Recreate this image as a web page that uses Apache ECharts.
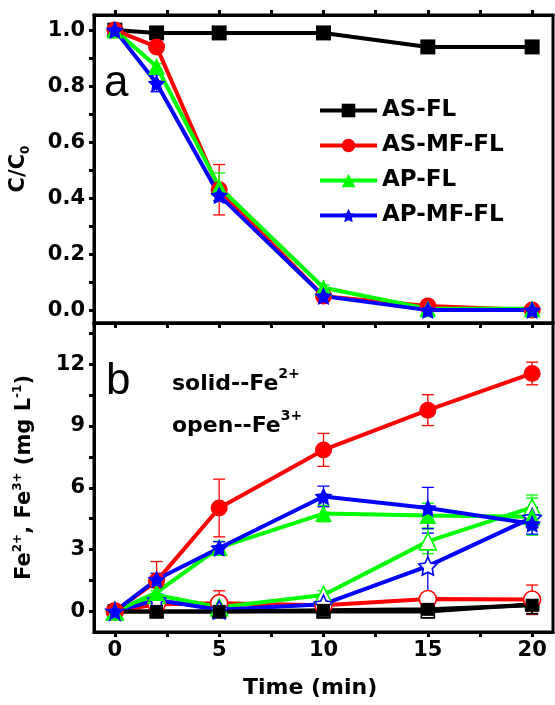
<!DOCTYPE html>
<html>
<head>
    <meta charset="utf-8">
    <title>ECharts</title>
    <script src="https://cdn.jsdelivr.net/npm/echarts@6/dist/echarts.min.js"></script>
</head>
<body style="margin:0">
    <div id="main" style="width: 555px;height:705px;"></div>
    <script>
        // sampling times (min)
        var times = [0, 2, 5, 10, 15, 20];

        // panel a: C/C0
        var names = ['AS-FL', 'AS-MF-FL', 'AP-FL', 'AP-MF-FL'];
        var cAS = [1.0, 0.99, 0.99, 0.99, 0.94, 0.94];
        var cASMF = [1.0, 0.94, 0.43, 0.05, 0.015, 0.0];
        var cAP = [1.0, 0.87, 0.44, 0.08, 0.005, 0.005];
        var cAPMF = [1.0, 0.81, 0.41, 0.05, 0.0, 0.0];
        var eASMF = [0, 0.01, 0.09, 0.01, 0.02, 0.005];
        var eAP = [0, 0.01, 0.05, 0.01, 0.01, 0.005];
        var eAPMF = [0, 0.03, 0.02, 0.01, 0.005, 0.005];

        // panel b: Fe2+ (solid) and Fe3+ (open), mg/L
        var fe2AS = [0, 0, 0, 0.05, 0.1, 0.3];
        var fe3AS = [0, 0, 0, 0, 0, 0.35];
        var fe2ASMF = [0, 1.47, 5.02, 7.84, 9.77, 11.55];
        var fe3ASMF = [0, 0.35, 0.4, 0.3, 0.6, 0.58];
        var fe2AP = [0, 0.92, 3.1, 4.75, 4.65, 4.6];
        var fe3AP = [0, 0.8, 0.2, 0.8, 3.4, 5.05];
        var fe2APMF = [0, 1.55, 3.08, 5.58, 5.02, 4.25];
        var fe3APMF = [0, 0.55, 0.08, 0.35, 2.2, 4.55];
        var efe2AS = [0, 0, 0, 0, 0.2, 0.4];
        var efe3AS = [0, 0.3, 0, 0.3, 0.3, 0.5];
        var efe2ASMF = [0, 0.95, 1.4, 0.8, 0.75, 0.55];
        var efe3ASMF = [0, 0.3, 0.6, 0.2, 0.3, 0.7];
        var efe2AP = [0, 0.3, 0.3, 0.4, 0.6, 0.9];
        var efe3AP = [0, 0.2, 0.2, 0.2, 0.6, 0.6];
        var efe2APMF = [0, 0.3, 0.3, 0.5, 1.0, 0.5];
        var efe3APMF = [0, 0.3, 0.2, 0.2, 1.6, 0.5];

        var FONT = 'DejaVu Sans';
        var STAR = 'path://M0,-10L2.94,-4.05L9.51,-3.09L4.76,1.55L5.88,8.09L0,5.2L-5.88,8.09L-4.76,1.55L-9.51,-3.09L-2.94,-4.05Z';

        function pairs(v) {
            return times.map(function (t, i) { return [t, v[i]]; });
        }
        function triples(v, e) {
            return times.map(function (t, i) { return [t, v[i], e[i]]; });
        }

        function lineSeries(name, vals, color, symbol, size, open, gi) {
            return {
                name: name,
                type: 'line',
                xAxisIndex: gi, yAxisIndex: gi,
                data: pairs(vals),
                symbol: symbol,
                symbolSize: size,
                showAllSymbol: true,
                animation: false,
                lineStyle: { color: color, width: 4 },
                itemStyle: open
                    ? { color: '#fff', borderColor: color, borderWidth: 1.6 }
                    : { color: color, borderColor: color, borderWidth: 0 }
            };
        }

        function errSeries(vals, errs, color, gi) {
            return {
                type: 'custom',
                xAxisIndex: gi, yAxisIndex: gi,
                data: triples(vals, errs),
                animation: false,
                silent: true,
                renderItem: function (params, api) {
                    var e = api.value(2);
                    if (!e) return;
                    var x = api.value(0), y = api.value(1);
                    var hi = api.coord([x, y + e]);
                    var lo = api.coord([x, y - e]);
                    var w = 6;
                    var st = { stroke: color, lineWidth: 1.3 };
                    return {
                        type: 'group',
                        children: [
                            { type: 'line', shape: { x1: hi[0], y1: hi[1], x2: lo[0], y2: lo[1] }, style: st },
                            { type: 'line', shape: { x1: hi[0] - w, y1: hi[1], x2: hi[0] + w, y2: hi[1] }, style: st },
                            { type: 'line', shape: { x1: lo[0] - w, y1: lo[1], x2: lo[0] + w, y2: lo[1] }, style: st }
                        ]
                    };
                }
            };
        }

        function range(a, b, s) {
            var out = [];
            for (var v = a; v <= b + 1e-9; v += s) out.push(Math.round(v * 100) / 100);
            return out;
        }

        var labelStyle = { color: '#000', fontFamily: FONT, fontWeight: 'bold', fontSize: 21 };

        function xAxisCfg(gi, showLabels, pos) {
            return {
                type: 'value', gridIndex: gi, min: -1, max: 21, position: pos || 'bottom',
                splitLine: { show: false },
                axisLine: { onZero: false, lineStyle: { color: '#000', width: 3 } },
                axisTick: { inside: false, length: 5, lineStyle: { width: 3, color: '#000' },
                    customValues: range(0, 20, 2.5) },
                axisLabel: showLabels
                    ? Object.assign({ margin: 8, customValues: [0, 5, 10, 15, 20] }, labelStyle)
                    : { show: false }
            };
        }

        var richAxis = {
            m: { fontFamily: FONT, fontWeight: 'bold', fontSize: 21, color: '#000', lineHeight: 26, verticalAlign: 'middle' },
            s: { fontFamily: FONT, fontWeight: 'bold', fontSize: 12, color: '#000', lineHeight: 26, verticalAlign: 'bottom' },
            p: { fontFamily: FONT, fontWeight: 'bold', fontSize: 12, color: '#000', lineHeight: 26, verticalAlign: 'top' }
        };
        var richNote = {
            m: { fontFamily: FONT, fontWeight: 'bold', fontSize: 22, fill: '#000', lineHeight: 28, verticalAlign: 'bottom' },
            p: { fontFamily: FONT, fontWeight: 'bold', fontSize: 14, fill: '#000', lineHeight: 28, verticalAlign: 'top' }
        };

        var chartDom = document.getElementById('main');
        var myChart = echarts.init(chartDom);

        var option = {
            backgroundColor: '#fff',
            animation: false,
            grid: [
                { left: 94, right: 2, top: 15, height: 308, show: true, borderColor: '#000', borderWidth: 3 },
                { left: 94, right: 2, top: 323, height: 309, show: true, borderColor: '#000', borderWidth: 3 }
            ],
            xAxis: [
                xAxisCfg(0, false),
                xAxisCfg(1, true),
                xAxisCfg(0, false, 'top')
            ],
            yAxis: [
                {
                    type: 'value', gridIndex: 0, min: -0.046, max: 1.054,
                    splitLine: { show: false },
                    axisLine: { onZero: false, lineStyle: { color: '#000', width: 3 } },
                    axisTick: { length: 5, lineStyle: { width: 3, color: '#000' }, customValues: range(0, 1, 0.1) },
                    axisLabel: Object.assign({
                        margin: 9, customValues: range(0, 1, 0.2),
                        formatter: function (v) { return v.toFixed(1); }
                    }, labelStyle),
                    name: '{m|C/C}{s|0}',
                    nameLocation: 'middle',
                    nameGap: 62,
                    nameTextStyle: { rich: richAxis }
                },
                {
                    type: 'value', gridIndex: 1, min: -1, max: 14,
                    splitLine: { show: false },
                    axisLine: { onZero: false, lineStyle: { color: '#000', width: 3 } },
                    axisTick: { length: 5, lineStyle: { width: 3, color: '#000' }, customValues: range(0, 13.5, 1.5) },
                    axisLabel: Object.assign({ margin: 9, customValues: [0, 3, 6, 9, 12] }, labelStyle),
                    name: '{m|Fe}{p|2+}{m|, Fe}{p|3+}{m| (mg L}{p|-1}{m|)}',
                    nameLocation: 'middle',
                    nameGap: 56,
                    nameTextStyle: { rich: richAxis }
                }
            ],
            legend: {
                data: names,
                orient: 'vertical',
                left: 313,
                top: 94,
                itemWidth: 57,
                itemHeight: 17,
                itemGap: 12,
                lineStyle: { width: 4 },
                textStyle: { fontFamily: FONT, fontWeight: 'bold', fontSize: 23, color: '#000' }
            },
            graphic: [
                { type: 'text', left: 104, top: 62, style: { text: 'a', fontFamily: 'Liberation Sans', fontSize: 44, fill: '#000' } },
                { type: 'text', left: 106, top: 360, style: { text: 'b', fontFamily: 'Liberation Sans', fontSize: 44, fill: '#000' } },
                { type: 'text', left: 172, top: 367, style: { text: '{m|solid--Fe}{p|2+}', rich: richNote } },
                { type: 'text', left: 172, top: 409, style: { text: '{m|open--Fe}{p|3+}', rich: richNote } },
                {
                    type: 'text', left: 243, top: 677,
                    style: { text: 'Time (min)', fontFamily: FONT, fontWeight: 'bold', fontSize: 22, fill: '#000' }
                }
            ],
            series: [
                // panel a
                lineSeries('AS-FL', cAS, '#000000', 'rect', 15, false, 0),
                lineSeries('AS-MF-FL', cASMF, '#ff0000', 'circle', 17, false, 0),
                errSeries(cASMF, eASMF, '#ff0000', 0),
                lineSeries('AP-FL', cAP, '#00ff00', 'triangle', 17, false, 0),
                errSeries(cAP, eAP, '#00ff00', 0),
                lineSeries('AP-MF-FL', cAPMF, '#0000ff', STAR, 18, false, 0),
                errSeries(cAPMF, eAPMF, '#0000ff', 0),

                // panel b, Fe3+ open
                lineSeries('AS-FL Fe3+', fe3AS, '#000000', 'rect', 13, true, 1),
                errSeries(fe3AS, efe3AS, '#000000', 1),
                lineSeries('AS-MF-FL Fe3+', fe3ASMF, '#ff0000', 'circle', 17, true, 1),
                errSeries(fe3ASMF, efe3ASMF, '#ff0000', 1),
                lineSeries('AP-FL Fe3+', fe3AP, '#00ff00', 'triangle', 17, true, 1),
                errSeries(fe3AP, efe3AP, '#00ff00', 1),
                lineSeries('AP-MF-FL Fe3+', fe3APMF, '#0000ff', STAR, 18, true, 1),
                errSeries(fe3APMF, efe3APMF, '#0000ff', 1),

                // panel b, Fe2+ solid
                lineSeries('AS-FL Fe2+', fe2AS, '#000000', 'rect', 13, false, 1),
                errSeries(fe2AS, efe2AS, '#000000', 1),
                lineSeries('AS-MF-FL Fe2+', fe2ASMF, '#ff0000', 'circle', 17, false, 1),
                errSeries(fe2ASMF, efe2ASMF, '#ff0000', 1),
                lineSeries('AP-FL Fe2+', fe2AP, '#00ff00', 'triangle', 17, false, 1),
                errSeries(fe2AP, efe2AP, '#00ff00', 1),
                lineSeries('AP-MF-FL Fe2+', fe2APMF, '#0000ff', STAR, 18, false, 1),
                errSeries(fe2APMF, efe2APMF, '#0000ff', 1)
            ]
        };

        myChart.setOption(option);
    </script>
</body>
</html>
